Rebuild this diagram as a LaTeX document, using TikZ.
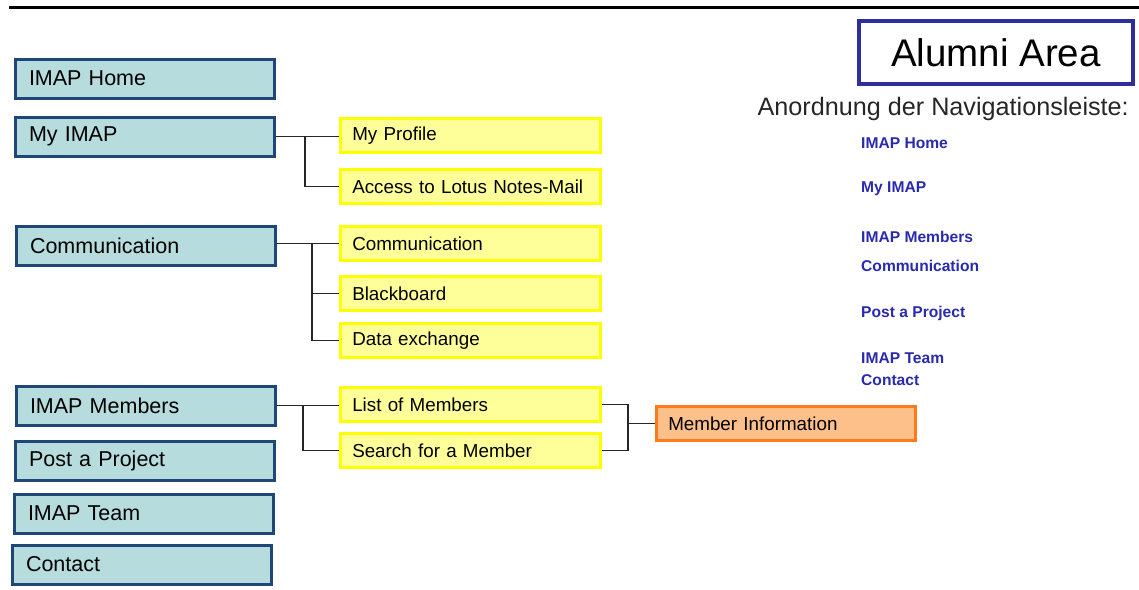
\documentclass[tikz,border=0pt]{standalone}
\usepackage{fontspec}
\setmainfont{Liberation Sans}
\definecolor{tealfill}{HTML}{B7DCDE}
\definecolor{tealline}{HTML}{1E4676}
\definecolor{yfill}{HTML}{FFFF99}
\definecolor{yline}{HTML}{FFFF00}
\definecolor{ofill}{HTML}{FDC08A}
\definecolor{oline}{HTML}{FF7A1A}
\definecolor{titleline}{HTML}{2E2E9E}
\definecolor{linkblue}{HTML}{2A2AAE}
\tikzset{
  bluebox/.style={draw=tealline, fill=tealfill, line width=3pt, anchor=west,
    minimum width=259pt, minimum height=39pt, inner xsep=14pt,
    text width=231pt, align=left, font=\fontsize{21.5}{23}\selectfont},
  yellowbox/.style={draw=yline, fill=yfill, line width=2.5pt, anchor=west,
    minimum width=260pt, minimum height=34pt, inner xsep=12pt,
    text width=236pt, align=left, font=\fontsize{18.8}{20}\selectfont},
  orangebox/.style={draw=oline, fill=ofill, line width=2.5pt, anchor=west,
    minimum width=259pt, minimum height=34pt, inner xsep=12pt,
    text width=235pt, align=left, font=\fontsize{18.8}{20}\selectfont},
  conn/.style={draw=black!85, line width=1.8pt},
  navlink/.style={anchor=west, inner sep=0pt, text=linkblue,
    font=\bfseries\fontsize{15.6}{17}\selectfont},
}
\begin{document}
\begin{tikzpicture}[x=1pt,y=-1pt]
\useasboundingbox (0,0) rectangle (1139,589);
\fill[white] (0,0) rectangle (1139,589);
% top rule
\draw[line width=3pt] (9,7) -- (1139,7);

% main navigation boxes
\node[bluebox] (home)    at (13.5,78.5)  {IMAP Home};
\node[bluebox] (myimap)  at (13.5,136.5) {My IMAP};
\node[bluebox] (comm)    at (14.5,245.5) {Communication};
\node[bluebox] (members) at (14.5,405.5) {IMAP Members};
\node[bluebox] (post)    at (13.5,460.5) {Post a Project};
\node[bluebox] (team)    at (12.5,513.5) {IMAP Team};
\node[bluebox] (contact) at (10.5,564.5) {Contact};

% sub boxes
\node[yellowbox] (profile) at (339,135.5) {My Profile};
\node[yellowbox] (access)  at (339,186.5) {Access to Lotus Notes-Mail};
\node[yellowbox] (comm2)   at (339,243.5) {Communication};
\node[yellowbox] (black)   at (339,293.5) {Blackboard};
\node[yellowbox] (data)    at (339,340.5) {Data exchange};
\node[yellowbox] (list)    at (339,404.5) {List of Members};
\node[yellowbox] (search)  at (339,450.5) {Search for a Member};
\node[orangebox] (info)    at (655,423.5) {Member Information};

% connectors
\coordinate (j1) at (305,136);
\coordinate (j2) at (312,244);
\coordinate (j3) at (303,405);
\coordinate (b1) at (628,404.5);
\coordinate (b2) at (628,450.5);
\draw[conn] (myimap.east) -- (myimap.east -| profile.west);
\draw[conn] (j1) |- (access.west);
\draw[conn] (comm.east |- comm2.west) -- (comm2.west);
\draw[conn] (j2) |- (black.west);
\draw[conn] (j2) |- (data.west);
\draw[conn] (members.east) -- (members.east -| list.west);
\draw[conn] (j3) |- (search.west);
\draw[conn] (list.east) -- (b1) -- (b2) -- (search.east);
\draw[conn] (b1 |- info.west) -- (info.west);

% title
\node[draw=titleline, line width=4pt, minimum width=274pt, minimum height=63pt,
      font=\fontsize{38.5}{41}\selectfont] (title) at (996,52.5) {Alumni Area};
\node[anchor=east, inner sep=0pt, text=black!85, font=\fontsize{25.2}{27}\selectfont]
      (subtitle) at (1129,109) {Anordnung der Navigationsleiste:};

% navigation order list
\node[navlink] (l1) at (861,143) {IMAP Home};
\node[navlink] (l2) at (861,189) {My IMAP};
\node[navlink] (l3) at (861,237) {IMAP Members};
\node[navlink] (l4) at (861,266) {Communication};
\node[navlink] (l5) at (861,313) {Post a Project};
\node[navlink] (l6) at (861,358) {IMAP Team};
\node[navlink] (l7) at (861,380) {Contact};
\end{tikzpicture}
\end{document}
